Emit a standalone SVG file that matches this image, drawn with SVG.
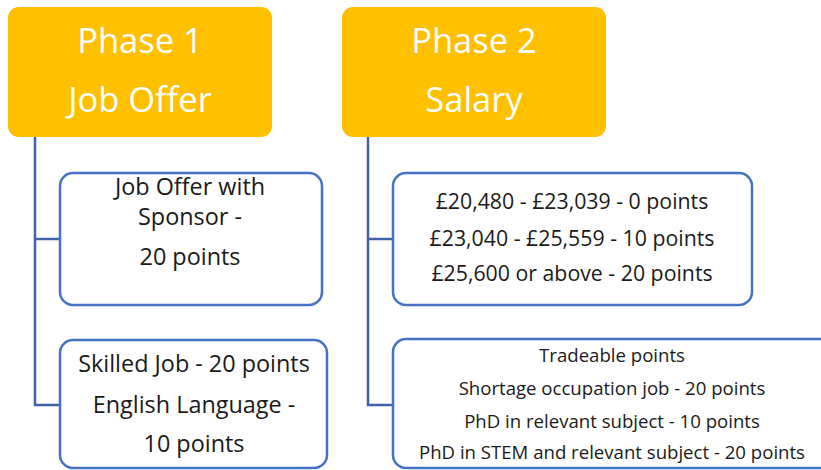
<svg xmlns="http://www.w3.org/2000/svg" width="821" height="470" viewBox="0 0 821 470">
<style>
.phase{fill:#FFC000;}
.ph{font-family:"Open Sans","Liberation Sans",sans-serif;font-size:34.5px;fill:#FFFFFF;text-anchor:middle;}
.box{fill:#FFFFFF;stroke:#4472C4;stroke-width:2.5;}
.t{font-family:"Open Sans","Liberation Sans",sans-serif;font-size:23.4px;fill:#1a1a1a;text-anchor:middle;}
.m{font-family:"Open Sans","Liberation Sans",sans-serif;font-size:21.3px;fill:#1a1a1a;text-anchor:middle;}
.s{font-family:"Open Sans","Liberation Sans",sans-serif;font-size:18.6px;fill:#1a1a1a;text-anchor:middle;}
.c{fill:none;stroke:#3F63A8;stroke-width:2.5;}
</style>
<rect width="821" height="470" fill="#FFFFFF"/>
<g id="connectors">
<path class="c" d="M35 137 V405 H60 M35 239 H60"/>
<path class="c" d="M368 137 V405 H393 M368 239 H393"/>
</g>
<g id="phase1">
<rect class="phase" x="8" y="7" width="264" height="130" rx="11"/>
<text class="ph" x="140" y="53">Phase 1</text>
<text class="ph" x="140" y="112">Job Offer</text>
</g>
<g id="phase2">
<rect class="phase" x="342" y="7" width="264" height="130" rx="11"/>
<text class="ph" x="474" y="53">Phase 2</text>
<text class="ph" x="474" y="112">Salary</text>
</g>
<g id="job-offer">
<rect class="box" x="60" y="173" width="262" height="132" rx="13"/>
<text class="t" x="190" y="195">Job Offer with</text>
<text class="t" x="190" y="225">Sponsor -</text>
<text class="t" x="190" y="265">20 points</text>
</g>
<g id="skilled">
<rect class="box" x="60" y="340" width="267" height="128" rx="13"/>
<text class="t" x="194" y="372">Skilled Job - 20 points</text>
<text class="t" x="194" y="413">English Language -</text>
<text class="t" x="194" y="452">10 points</text>
</g>
<g id="salary">
<rect class="box" x="393" y="173" width="359" height="132" rx="13"/>
<text class="m" x="572" y="209">£20,480 - £23,039 - 0 points</text>
<text class="m" x="572" y="246">£23,040 - £25,559 - 10 points</text>
<text class="m" x="572" y="281">£25,600 or above - 20 points</text>
</g>
<g id="tradeable">
<rect class="box" x="393" y="339" width="440" height="129" rx="13"/>
<text class="s" x="612" y="362">Tradeable points</text>
<text class="s" x="612" y="395">Shortage occupation job - 20 points</text>
<text class="s" x="612" y="428">PhD in relevant subject - 10 points</text>
<text class="s" x="612" y="459">PhD in STEM and relevant subject - 20 points</text>
</g>
</svg>
